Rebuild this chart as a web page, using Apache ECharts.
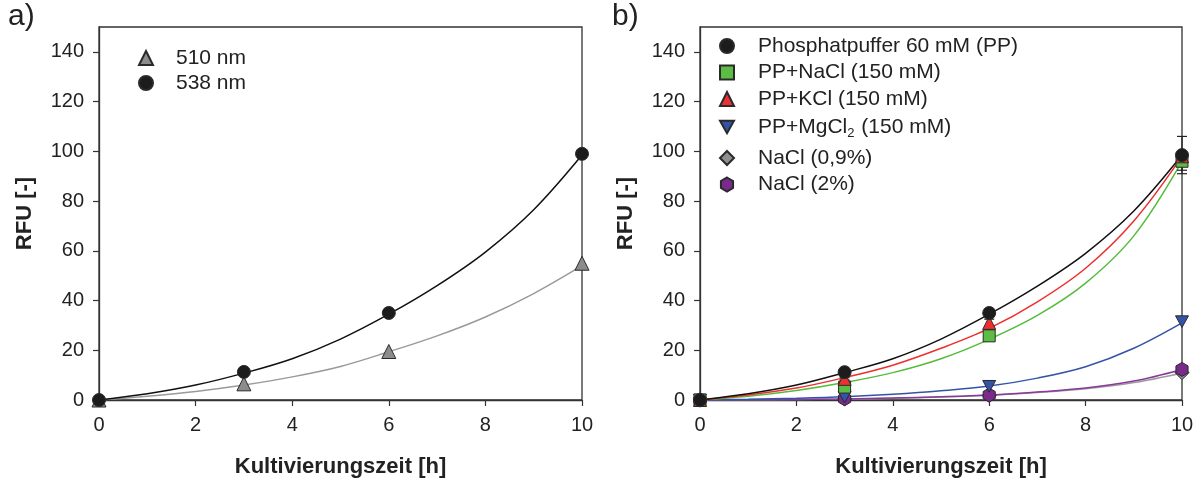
<!DOCTYPE html>
<html>
<head>
<meta charset="utf-8">
<script src="https://cdn.jsdelivr.net/npm/echarts@6/dist/echarts.min.js"></script>
<style>
html, body { margin: 0; padding: 0; background: #fff; }
#main { width: 1199px; height: 483px; }
</style>
</head>
<body>
<div id="main"></div>
<script>
// Messzeitpunkte [h]
var zeit = [0, 3, 6, 10];
var yTicks = [0, 20, 40, 60, 80, 100, 120, 140];

// a) Messwerte bei zwei Wellenlaengen
var nm510 = [0, 6.5, 19.5, 55];
var nm538 = [0, 11.3, 35, 99];
var nm538Err = [0, 0.5, 0.8, 1.2];

// b) Messwerte Puffer / Salze
var pp = [0, 11.2, 35, 98.5];
var ppErr = [0, 0.6, 1, 7.5];
var ppNaCl = [0, 5.2, 25.8, 96];
var ppNaClErr = [0, 0.5, 1, 3.6];
var ppKCl = [0, 8.5, 31, 98];
var ppKClErr = [0, 0.5, 1.5, 1.5];
var ppMgCl = [0, 1.2, 5.5, 31.5];
var nacl09 = [0, 0.4, 1.8, 11];
var nacl2 = [0, 0.5, 2, 12.3];

var fitZeit = [0, 1, 2, 3, 4, 5, 6, 7, 8, 9, 10];
var fit510 = [0, 1.5, 3.4, 6, 9.3, 13.5, 19.4, 25.8, 33.4, 42.8, 54];
var fit538 = [0, 2.5, 6, 10.8, 16.6, 24.5, 34.5, 46, 59.5, 76.5, 98.5];
var fitPP = [0, 2.5, 6, 11, 16.6, 24.5, 34.5, 45.8, 59, 76, 98.5];
var fitKCl = [0, 2, 4.8, 9, 14, 20.8, 28.8, 39.5, 53, 72, 98];
var fitNaCl = [0, 1.5, 3.8, 7, 11, 16.6, 24.4, 34, 47, 66, 96];
var fitMgCl = [0, 0.3, 0.7, 1.3, 2.3, 3.7, 5.6, 8.8, 13.4, 20.8, 31];
var fitNaCl09 = [0, 0.1, 0.2, 0.4, 0.7, 1.2, 1.9, 3, 4.5, 7, 10.9];
var fitNaCl2 = [0, 0.1, 0.2, 0.4, 0.8, 1.3, 2, 3.2, 4.8, 7.6, 12.3];

var hexagon = 'path://M0,-1L0.866,-0.5L0.866,0.5L0,1L-0.866,0.5L-0.866,-0.5Z';
var downTri = 'path://M-1,-0.9L1,-0.9L0,0.9Z';
var font = 'Liberation Sans';

function pts(xs, arr) {
    return xs.map(function (t, i) { return [t, arr[i]]; });
}

function errorBars(name, gi, arr, err) {
    return {
        name: name + '_err',
        type: 'custom',
        xAxisIndex: gi, yAxisIndex: gi,
        z: 2,
        silent: true,
        data: zeit.map(function (t, i) { return [t, arr[i] - err[i], arr[i] + err[i]]; }),
        renderItem: function (params, api) {
            var lo = api.coord([api.value(0), api.value(1)]);
            var hi = api.coord([api.value(0), api.value(2)]);
            var w = 5;
            var st = { stroke: '#222', lineWidth: 1.2 };
            return {
                type: 'group',
                children: [
                    { type: 'line', shape: { x1: lo[0], y1: lo[1], x2: hi[0], y2: hi[1] }, style: st },
                    { type: 'line', shape: { x1: lo[0] - w, y1: lo[1], x2: lo[0] + w, y2: lo[1] }, style: st },
                    { type: 'line', shape: { x1: hi[0] - w, y1: hi[1], x2: hi[0] + w, y2: hi[1] }, style: st }
                ]
            };
        }
    };
}

function fitLine(name, gi, arr, color) {
    return {
        name: name + '_fit',
        type: 'line',
        xAxisIndex: gi, yAxisIndex: gi,
        data: pts(fitZeit, arr),
        smooth: 0.35,
        symbol: 'none',
        z: 1,
        silent: true,
        lineStyle: { color: color, width: 1.5 }
    };
}

function marks(name, gi, arr, symbol, size, fill) {
    return {
        name: name,
        type: 'scatter',
        xAxisIndex: gi, yAxisIndex: gi,
        data: pts(zeit, arr),
        symbol: symbol,
        symbolSize: size,
        symbolKeepAspect: true,
        z: 3,
        itemStyle: { color: fill, borderColor: '#2a2a2a', borderWidth: 1, opacity: 1 },
        emphasis: { disabled: true }
    };
}

function xAx(gi) {
    return {
        type: 'value', gridIndex: gi, min: 0, max: 10, interval: 2,
        name: 'Kultivierungszeit [h]', nameLocation: 'middle', nameGap: 56,
        nameTextStyle: { fontFamily: font, fontWeight: 'bold', fontSize: 22, color: '#222' },
        axisLine: { lineStyle: { color: '#333', width: 1.3 } },
        axisTick: { length: 6, lineStyle: { color: '#333', width: 1.2 } },
        axisLabel: { fontFamily: font, fontSize: 20, color: '#222', margin: 15 },
        splitLine: { show: false }
    };
}
function yAx(gi) {
    return {
        type: 'value', gridIndex: gi, min: 0, max: 150,
        name: 'RFU [-]', nameLocation: 'middle', nameGap: 63,
        nameTextStyle: { fontFamily: font, fontWeight: 'bold', fontSize: 22, color: '#222' },
        axisLine: { show: true, lineStyle: { color: '#333', width: 1.3 } },
        axisTick: { show: true, length: 6, customValues: yTicks, lineStyle: { color: '#333', width: 1.2 } },
        axisLabel: { fontFamily: font, fontSize: 20, color: '#222', margin: 15, customValues: yTicks },
        splitLine: { show: false }
    };
}

var legendStyle = {
    fontFamily: font, fontSize: 21, color: '#222', lineHeight: 22, padding: [0, 0, 0, 19],
    rich: {
        n: { fontFamily: font, fontSize: 21, color: '#222', lineHeight: 22 },
        s: { fontFamily: font, fontSize: 13, color: '#222', lineHeight: 22, padding: [12, 1, 0, 0] }
    }
};
function legendFmt(name) {
    if (name === 'PP+MgCl2 (150 mM)') {
        return '{n|PP+MgCl}{s|2}{n| (150 mM)}';
    }
    return '{n|' + name + '}';
}

var option = {
    animation: false,
    grid: [
        { left: 99, right: 617, top: 27, bottom: 83, show: true, borderColor: '#333', borderWidth: 1.3 },
        { left: 700, right: 17, top: 27, bottom: 83, show: true, borderColor: '#333', borderWidth: 1.3 }
    ],
    xAxis: [xAx(0), xAx(1)],
    yAxis: [yAx(0), yAx(1)],
    graphic: [
        { type: 'text', left: 8, top: 2, style: { text: 'a)', fontFamily: font, fontSize: 30, fill: '#222' } },
        { type: 'text', left: 612, top: 2, style: { text: 'b)', fontFamily: font, fontSize: 30, fill: '#222' } }
    ],
    legend: [
        {
            orient: 'vertical', left: 133, top: 42, itemWidth: 14, itemHeight: 14, itemGap: 3,
            selectedMode: false,
            textStyle: { fontFamily: font, fontSize: 21, color: '#222', lineHeight: 22, padding: [0, 0, 0, 18] },
            data: [{ name: '510 nm', icon: 'triangle' }, { name: '538 nm', icon: 'circle' }]
        },
        {
            orient: 'vertical', left: 714, top: 30, itemWidth: 14, itemHeight: 14, itemGap: 4.5,
            selectedMode: false,
            textStyle: legendStyle,
            formatter: legendFmt,
            data: [
                { name: 'Phosphatpuffer 60 mM (PP)', icon: 'circle' },
                { name: 'PP+NaCl (150 mM)', icon: 'rect' },
                { name: 'PP+KCl (150 mM)', icon: 'triangle' },
                { name: 'PP+MgCl2 (150 mM)', icon: downTri }
            ]
        },
        {
            orient: 'vertical', left: 714, top: 142, itemWidth: 14, itemHeight: 14, itemGap: 4.5,
            selectedMode: false,
            textStyle: legendStyle,
            formatter: legendFmt,
            data: [
                { name: 'NaCl (0,9%)', icon: 'diamond' },
                { name: 'NaCl (2%)', icon: hexagon }
            ]
        }
    ],
    series: [
        fitLine('510 nm', 0, fit510, '#9a9a9a'),
        fitLine('538 nm', 0, fit538, '#111'),
        errorBars('538 nm', 0, nm538, nm538Err),
        marks('510 nm', 0, nm510, 'triangle', 14, '#8c8c8c'),
        marks('538 nm', 0, nm538, 'circle', 13, '#1c1c1c'),

        fitLine('NaCl (0,9%)', 1, fitNaCl09, '#9a9a9a'),
        fitLine('NaCl (2%)', 1, fitNaCl2, '#8a3a9a'),
        fitLine('PP+MgCl2 (150 mM)', 1, fitMgCl, '#3354a6'),
        fitLine('PP+NaCl (150 mM)', 1, fitNaCl, '#55bb3c'),
        fitLine('PP+KCl (150 mM)', 1, fitKCl, '#ee2f2f'),
        fitLine('Phosphatpuffer 60 mM (PP)', 1, fitPP, '#111'),
        errorBars('PP', 1, pp, ppErr),
        errorBars('PP+NaCl', 1, ppNaCl, ppNaClErr),
        errorBars('PP+KCl', 1, ppKCl, ppKClErr),
        marks('NaCl (0,9%)', 1, nacl09, 'diamond', 14, '#8f8f8f'),
        marks('NaCl (2%)', 1, nacl2, hexagon, 14, '#7a2a8a'),
        marks('PP+MgCl2 (150 mM)', 1, ppMgCl, downTri, 13, '#3354a6'),
        marks('PP+NaCl (150 mM)', 1, ppNaCl, 'rect', 12, '#5cbd45'),
        marks('PP+KCl (150 mM)', 1, ppKCl, 'triangle', 13, '#ee2f2f'),
        marks('Phosphatpuffer 60 mM (PP)', 1, pp, 'circle', 13, '#1c1c1c')
    ]
};

var chart = echarts.init(document.getElementById('main'));
chart.setOption(option);
</script>
</body>
</html>
